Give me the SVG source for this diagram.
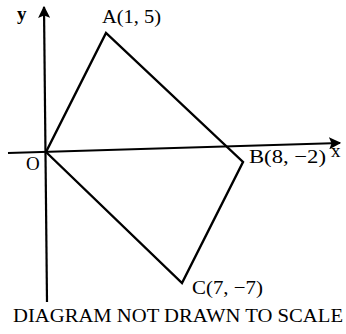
<svg xmlns="http://www.w3.org/2000/svg" width="346" height="334" viewBox="0 0 346 334">
<defs>
<style>
.ax{stroke:#000;stroke-width:2.2;fill:none}
.edge{stroke:#000;stroke-width:2.4;fill:none;stroke-linejoin:miter}
.t{font-family:"Liberation Serif","Times New Roman",serif;font-size:19px;fill:#000}
</style>
<marker id="ah" viewBox="0 0 10 10" refX="9" refY="5" markerWidth="5.5" markerHeight="5.5" orient="auto" markerUnits="strokeWidth">
<path d="M0,0 L10,5 L0,10 L2,5 Z" fill="#000"/>
</marker>
</defs>
<rect width="346" height="334" fill="#fff"/>
<g id="connectors">
<line id="x-axis" class="ax" x1="8" y1="153" x2="340" y2="143" marker-end="url(#ah)"/>
<line id="y-axis" class="ax" x1="47" y1="302" x2="44" y2="7" marker-end="url(#ah)"/>
<polyline id="quad" class="edge" points="46,152 106,33 243,162 182,283 46,152"/>
</g>
<g id="label-y"><text class="t" x="17" y="20" font-weight="bold" font-size="17">y</text></g>
<g id="node-A"><text class="t" x="102" y="23" textLength="59" lengthAdjust="spacingAndGlyphs">A(1, 5)</text></g>
<g id="node-O"><text class="t" x="26" y="170">O</text></g>
<g id="node-B"><text class="t" x="249" y="163" textLength="77" lengthAdjust="spacingAndGlyphs">B(8, −2)</text></g>
<g id="label-x"><text class="t" x="331" y="157" font-size="17">x</text></g>
<g id="node-C"><text class="t" x="192" y="294" textLength="71" lengthAdjust="spacingAndGlyphs">C(7, −7)</text></g>
<g id="caption"><text class="t" x="13" y="322" textLength="330" lengthAdjust="spacingAndGlyphs">DIAGRAM NOT DRAWN TO SCALE</text></g>
</svg>
